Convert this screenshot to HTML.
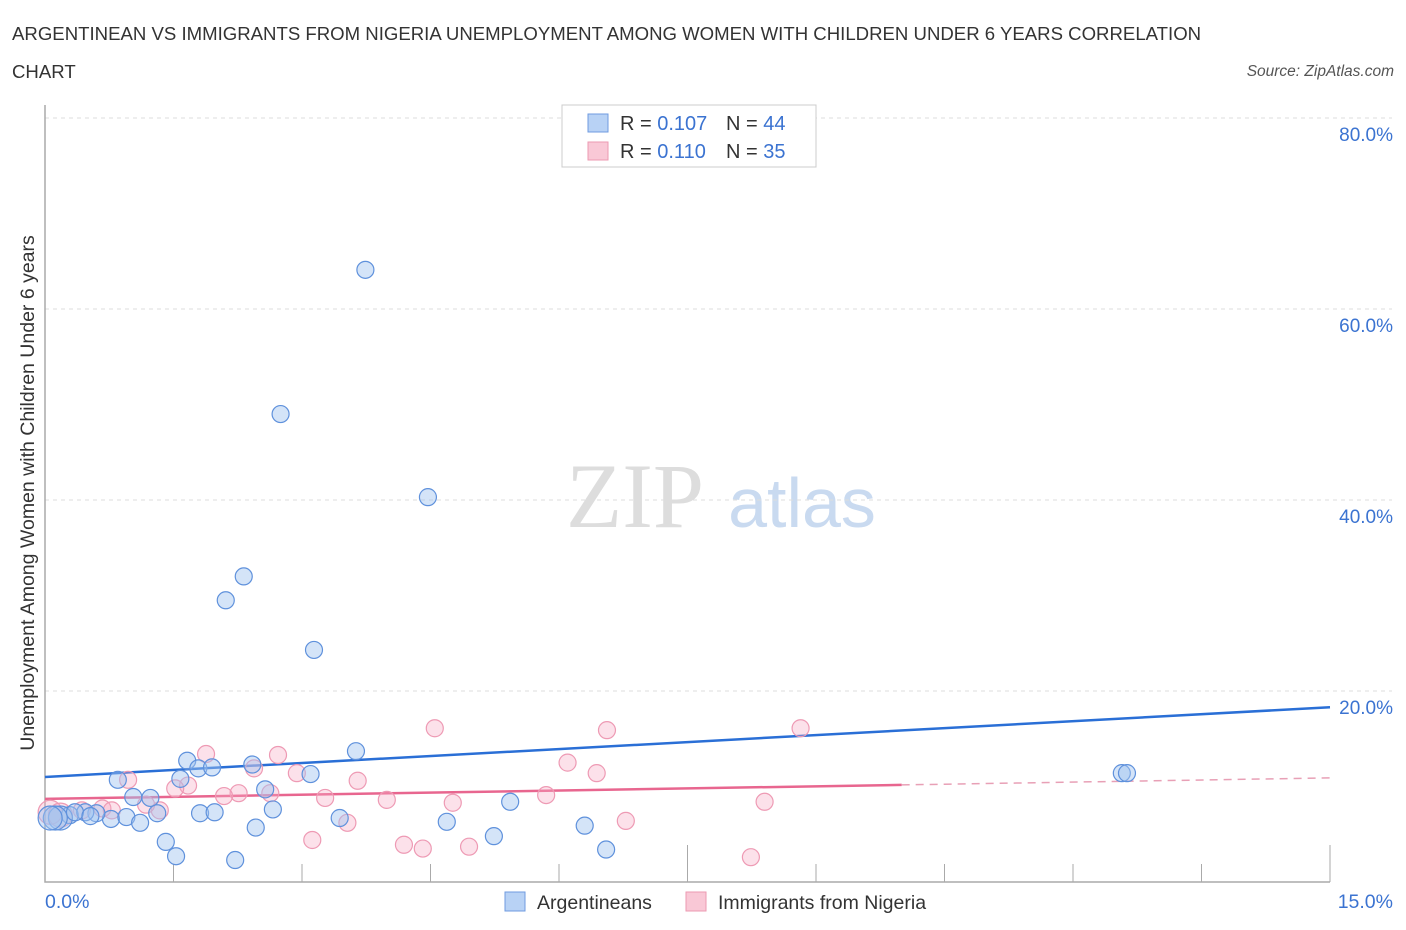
<!DOCTYPE html>
<html><head><meta charset="utf-8"><style>
body{margin:0;background:#fff;font-family:"Liberation Sans",sans-serif;}
svg{display:block}
</style></head><body>
<svg width="1406" height="930" id="chart">
<text x="12" y="40" font-size="18.6" fill="#333">ARGENTINEAN VS IMMIGRANTS FROM NIGERIA UNEMPLOYMENT AMONG WOMEN WITH CHILDREN UNDER 6 YEARS CORRELATION</text>
<text x="12" y="78" font-size="18.6" fill="#333">CHART</text>
<text x="1394" y="76" font-size="15.5" fill="#555" font-style="italic" text-anchor="end">Source: ZipAtlas.com</text>
<g>
<text x="635" y="527" font-family="Liberation Serif,serif" font-size="92" fill="#ddd" text-anchor="middle">ZIP</text>
<text x="802" y="527" font-size="70" fill="#c9daf0" text-anchor="middle">atlas</text>
</g>
<g id="grid"></g>
<g id="axes"></g>
<g id="lines"></g>
<g id="points"></g>
<text transform="translate(34,493) rotate(-90)" font-size="19.5" fill="#333" text-anchor="middle">Unemployment Among Women with Children Under 6 years</text>
<text x="45" y="908" font-size="19.5" fill="#3b73d1">0.0%</text>
<text x="1393" y="908" font-size="19.5" fill="#3b73d1" text-anchor="end">15.0%</text>
<g>
<rect x="562" y="105" width="254" height="62" fill="#fff" stroke="#ccc"/>
<rect x="588" y="114" width="20" height="18" fill="#b8d2f5" stroke="#6f9be0"/>
<rect x="588" y="142" width="20" height="18" fill="#f9c8d6" stroke="#ec9ab2"/>
<text x="620" y="130" font-size="20" fill="#333">R = <tspan fill="#3b73d1">0.107</tspan></text>
<text x="726" y="130" font-size="20" fill="#333">N = <tspan fill="#3b73d1">44</tspan></text>
<text x="620" y="158" font-size="20" fill="#333">R = <tspan fill="#3b73d1"> 0.110</tspan></text>
<text x="726" y="158" font-size="20" fill="#333">N = <tspan fill="#3b73d1">35</tspan></text>
</g>
<g>
<rect x="505" y="892" width="20" height="19" fill="#b8d2f5" stroke="#6f9be0"/>
<text x="537" y="909" font-size="19.5" fill="#333">Argentineans</text>
<rect x="686" y="892" width="20" height="19" fill="#f9c8d6" stroke="#ec9ab2"/>
<text x="718" y="909" font-size="19.5" fill="#333">Immigrants from Nigeria</text>
</g>
</svg>
<script>
const yTicks=[20,40,60,80];
const yTickLabels=["20.0%","40.0%","60.0%","80.0%"];
const xTicks=[1.5,3,4.5,6,7.5,9,10.5,12,13.5,15];
const blueX=[3.74,2.75,4.47,2.32,2.11,3.14,3.63,1.66,2.42,1.79,1.95,3.10,1.58,0.85,2.57,1.03,1.23,2.66,1.81,1.98,1.31,3.44,0.77,0.95,1.11,0.60,0.29,0.18,0.12,0.47,4.69,5.43,2.46,6.30,5.24,1.41,1.53,2.22,6.55,12.57,12.63,0.06,0.35,0.53];
const blueY=[64.1,49.0,40.3,32.0,29.5,24.3,13.7,12.7,12.3,11.9,12.0,11.3,10.8,10.7,9.7,8.9,8.8,7.6,7.2,7.3,7.2,6.7,6.6,6.8,6.2,7.2,7.0,6.7,6.7,7.3,6.3,8.4,5.7,5.9,4.8,4.2,2.7,2.3,3.4,11.4,11.4,6.7,7.3,6.9];
const pinkX=[8.82,4.55,6.56,1.88,2.72,6.10,2.44,1.67,1.52,2.94,6.44,3.65,0.97,2.26,2.09,3.27,3.99,5.85,0.67,0.78,1.34,1.18,4.76,8.40,3.53,6.78,3.12,4.19,4.41,4.95,8.24,0.06,0.18,0.43,2.63];
const pinkY=[16.1,16.1,15.9,13.4,13.3,12.5,11.9,10.1,9.8,11.4,11.4,10.6,10.7,9.3,9.0,8.8,8.6,9.1,7.7,7.5,7.5,8.1,8.3,8.4,6.2,6.4,4.4,3.9,3.5,3.7,2.6,7.3,7.0,7.5,9.3];
const blueTrend=[11.0,18.3];
const pinkTrend=[8.7,10.9];
const pinkSolidEnd=10;

const NS="http://www.w3.org/2000/svg";
const X0=45,X1=1330,Y0=882,Y80=118;
const sx=v=>X0+(v/15)*(X1-X0);
const sy=v=>Y0-(v/80)*(Y0-Y80);
function mk(tag,attrs,parent){const e=document.createElementNS(NS,tag);for(const k in attrs)e.setAttribute(k,attrs[k]);parent.appendChild(e);return e;}
const grid=document.getElementById('grid'),axes=document.getElementById('axes'),lines=document.getElementById('lines'),pts=document.getElementById('points');
yTicks.forEach((t,i)=>{
 const l=mk('line',{x1:X0,x2:1392,y1:sy(t),y2:sy(t),stroke:'#ddd','stroke-dasharray':'4,4'},grid);
 
 
 const tx=mk('text',{x:1393,y:sy(t)+23,'font-size':19,fill:'#3b73d1','text-anchor':'end'},grid);
 tx.textContent=yTickLabels[i];
 
 
});
const ax=mk('path',{d:`M${X0} 105 V${Y0} H${X1}`,stroke:'#aaa','stroke-width':1.5,fill:'none'},axes);


xTicks.forEach(t=>{
 const tall=(t===7.5||t===15);
 const tk=mk('line',{x1:sx(t),x2:sx(t),y1:tall?845:864,y2:Y0,stroke:'#aaa'},axes);
 
 
});
const bl=mk('line',{x1:sx(0),y1:sy(blueTrend[0]),x2:sx(15),y2:sy(blueTrend[1]),stroke:'#2a6fd6','stroke-width':2.5},lines);


const pyAt=v=>pinkTrend[0]+(pinkTrend[1]-pinkTrend[0])*v/15;
const pl=mk('line',{x1:sx(0),y1:sy(pyAt(0)),x2:sx(pinkSolidEnd),y2:sy(pyAt(pinkSolidEnd)),stroke:'#e8668f','stroke-width':2.5},lines);


const pd=mk('line',{x1:sx(pinkSolidEnd),y1:sy(pyAt(pinkSolidEnd)),x2:sx(15),y2:sy(pyAt(15)),stroke:'#e8a0b6','stroke-width':1.5,'stroke-dasharray':'8,6'},lines);


pinkX.forEach((x,i)=>{
 const c=mk('circle',{cx:sx(x),cy:sy(pinkY[i]),r:x<0.2?12:8.5,fill:'rgba(246,170,195,0.35)',stroke:'#ee9ab4','stroke-width':1.2},pts);
 
 
});
blueX.forEach((x,i)=>{
 const c=mk('circle',{cx:sx(x),cy:sy(blueY[i]),r:x<0.2?12:8.5,fill:'rgba(160,195,240,0.45)',stroke:'#5f91dc','stroke-width':1.2},pts);
 
 
});
</script>
</body></html>
